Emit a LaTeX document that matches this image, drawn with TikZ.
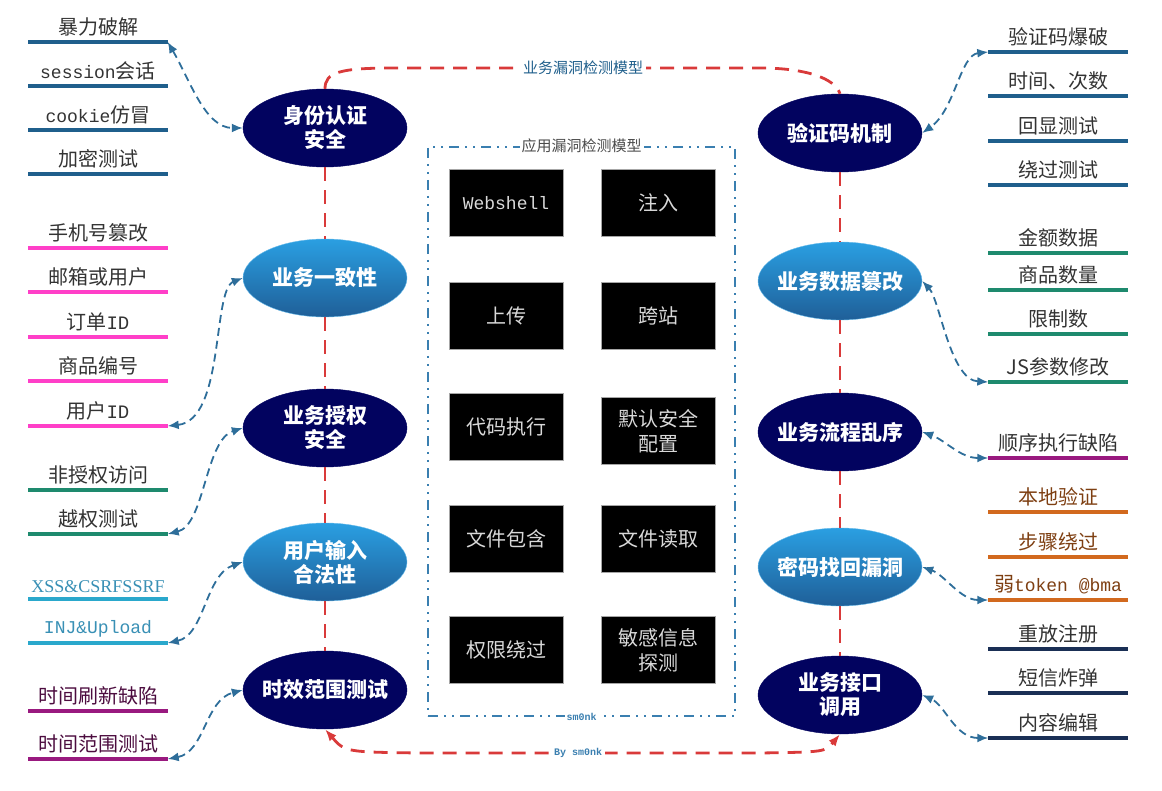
\documentclass[tikz,border=0pt]{standalone}
\usepackage{fontspec}
\setmainfont{Noto Sans CJK SC}
\setmonofont{Liberation Mono}
\newfontfamily\serifl{Liberation Serif}
\usetikzlibrary{shapes.geometric,arrows.meta}

\definecolor{ovdark}{HTML}{02035F}
\definecolor{ovtop}{HTML}{2A9FE2}
\definecolor{ovbot}{HTML}{1F5F98}
\definecolor{redline}{HTML}{D93A3A}
\definecolor{blueline}{HTML}{2E6E9A}
\definecolor{boxblue}{HTML}{3A7FB0}
\definecolor{cblue}{HTML}{1F5F8C}
\definecolor{cpink}{HTML}{FF3FC8}
\definecolor{cgreen}{HTML}{1E8A6E}
\definecolor{ccyan}{HTML}{2AA8CC}
\definecolor{cpurple}{HTML}{99197F}
\definecolor{corange}{HTML}{D2691E}
\definecolor{cnavy}{HTML}{1A2F55}

\tikzset{
	oval/.style={ellipse,minimum width=164pt,minimum height=78pt,inner xsep=-10pt,inner ysep=0pt,align=center,text=white,font=\fontsize{21}{24}\selectfont\bfseries},
	darkoval/.style={oval,fill=ovdark,draw=ovdark},
	lightoval/.style={oval,top color=ovtop,bottom color=ovbot,draw=ovtop!70!white},
	tag/.style={anchor=south,minimum width=139pt,inner xsep=0pt,inner ysep=6pt,text=black!80,font=\fontsize{20}{24}\selectfont},
	testbox/.style={rectangle,fill=black,draw=black!35,minimum width=114pt,minimum height=67pt,align=center,text=white!85!black,font=\fontsize{20}{25}\selectfont},
	frame/.style={rectangle,draw=boxblue,line width=1.8pt,dash pattern=on 10pt off 6pt on 2pt off 6pt on 2pt off 6pt,minimum width=307pt,minimum height=569pt},
	bizline/.style={draw=redline,line width=2.8pt,dash pattern=on 14pt off 9pt},
	link/.style={draw=blueline,line width=1.8pt,dash pattern=on 8pt off 5pt,>={Latex[length=11pt,width=9pt]},<->},
}

\begin{document}
\begin{tikzpicture}[x=1pt,y=-1pt]
	\useasboundingbox (0,0) rectangle (1162,791);

	% application model
	\node[frame] (Q) at (581.5,431.5) {};
	\node[fill=white,inner sep=2pt,text=black!70,font=\fontsize{15}{18}\selectfont] (Qt) at (Q.north) {应用漏洞检测模型};
	\node[fill=white,inner sep=2pt,text=boxblue,font=\ttfamily\bfseries\fontsize{10}{12}\selectfont] (Qb) at (Q.south) {sm0nk};

	\begin{scope}[every node/.style={testbox}]
		\node (M1) at (506,203) {\ttfamily\fontsize{18}{22}\selectfont Webshell};
		\node (M2) at (658,203) {注入};
		\node (M3) at (506,316) {上传};
		\node (M4) at (658,316) {跨站};
		\node (M5) at (506,427) {代码执行};
		\node (M6) at (658,431) {默认安全\\配置};
		\node (M7) at (506,539) {文件包含};
		\node (M8) at (658,539) {文件读取};
		\node (M9) at (506,650) {权限绕过};
		\node (M10) at (658,650) {敏感信息\\探测};
	\end{scope}

	% business model
	\begin{scope}[every node/.style={oval}]
		\node[darkoval] (A) at (325,128) {身份认证\\安全};
		\node[lightoval] (B) at (325,278) {业务一致性};
		\node[darkoval] (C) at (325,428) {业务授权\\安全};
		\node[lightoval] (D) at (325,562) {用户输入\\合法性};
		\node[darkoval] (E) at (325,690) {时效范围测试};
		\node[darkoval] (F) at (840,133) {验证码机制};
		\node[lightoval] (G) at (840,281) {业务数据篡改};
		\node[darkoval] (H) at (840,432) {业务流程乱序};
		\node[lightoval] (I) at (840,567) {密码找回漏洞};
		\node[darkoval] (J) at (840,695) {业务接口\\调用};
	\end{scope}

	\begin{scope}[every edge/.style={bizline}]
		\path (A) edge (B) (B) edge (C) (C) edge (D) (D) edge (E);
		\path (F) edge (G) (G) edge (H) (H) edge (I) (I) edge (J);
	\end{scope}
	\draw[bizline] (A.north) .. controls (325,72) and (340,68) .. (395,68) -- (760,68) .. controls (805,68) and (835,78) .. (F.north);
	\draw[bizline,<->,>={Latex[length=12pt,width=9pt]}] (E.south) .. controls (345,752) .. (420,753) -- (760,753) .. controls (825,752) .. (J.south);
	\node[fill=white,inner sep=3pt,text=cblue,font=\fontsize{15}{18}\selectfont] (T) at (583,68) {业务漏洞检测模型};
	\node[fill=white,inner sep=3pt,text=boxblue,font=\ttfamily\bfseries\fontsize{10}{12}\selectfont] (U) at (578,753) {By sm0nk};

	% left tags
	\begin{scope}[every node/.style={tag}]
		\node (a1) at (98,42) {暴力破解};
		\node (a2) at (98,86) {{\ttfamily\fontsize{18}{22}\selectfont session}会话};
		\node (a3) at (98,130) {{\ttfamily\fontsize{18}{22}\selectfont cookie}仿冒};
		\node (a4) at (98,174) {加密测试};
		\node (b1) at (98,248) {手机号篡改};
		\node (b2) at (98,292) {邮箱或用户};
		\node (b3) at (98,337) {订单{\ttfamily\fontsize{19}{22}\selectfont ID}};
		\node (b4) at (98,381) {商品编号};
		\node (b5) at (98,426) {用户{\ttfamily\fontsize{19}{22}\selectfont ID}};
		\node (c1) at (98,490) {非授权访问};
		\node (c2) at (98,534) {越权测试};
		\node[text=cyan!40!teal] (d1) at (98,599) {\serifl\fontsize{18}{22}\selectfont XSS\&CSRFSSRF};
		\node[text=cyan!40!teal] (d2) at (98,643) {\ttfamily\fontsize{18}{22}\selectfont INJ\&Upload};
		\node[text=cpurple!50!black] (e1) at (98,711) {时间刷新缺陷};
		\node[text=cpurple!50!black] (e2) at (98,759) {时间范围测试};
	\end{scope}

	% right tags
	\begin{scope}[every node/.style={tag}]
		\node (f1) at (1058,52) {验证码爆破};
		\node (f2) at (1058,96) {时间、次数};
		\node (f3) at (1058,141) {回显测试};
		\node (f4) at (1058,185) {绕过测试};
		\node (g1) at (1058,253) {金额数据};
		\node (g2) at (1058,290) {商品数量};
		\node (g3) at (1058,334) {限制数};
		\node (g4) at (1058,382) {JS参数修改};
		\node (h1) at (1058,458) {顺序执行缺陷};
		\node[text=corange!60!black] (i1) at (1058,512) {本地验证};
		\node[text=corange!60!black] (i2) at (1058,557) {步骤绕过};
		\node[text=corange!60!black] (i3) at (1058,600) {弱{\ttfamily\fontsize{18}{22}\selectfont token @bma}};
		\node (j1) at (1058,649) {重放注册};
		\node (j2) at (1058,693) {短信炸弹};
		\node (j3) at (1058,738) {内容编辑};
	\end{scope}

	% underlines
	\foreach \n/\c in {a1/cblue,a2/cblue,a3/cblue,a4/cblue,b1/cpink,b2/cpink,b3/cpink,b4/cpink,b5/cpink,c1/cgreen,c2/cgreen,d1/ccyan,d2/ccyan,e1/cpurple,e2/cpurple,f1/cblue,f2/cblue,f3/cblue,f4/cblue,g1/cgreen,g2/cgreen,g3/cgreen,g4/cgreen,h1/cpurple,i1/corange,i2/corange,i3/corange,j1/cnavy,j2/cnavy,j3/cnavy}
		\draw[\c,line width=3.5pt] (\n.south west) -- (\n.south east);

	% links
	\draw[link] (a1.south east) .. controls (190,80) and (205,128) .. (A.west);
	\draw[link] (b5.south east) .. controls (225,420) and (212,290) .. (B.west);
	\draw[link] (c2.south east) .. controls (205,525) and (205,440) .. (C.west);
	\draw[link] (d2.south east) .. controls (205,635) and (205,575) .. (D.west);
	\draw[link] (e2.south east) .. controls (205,752) and (205,700) .. (E.west);
	\draw[link] (f1.south west) .. controls (960,55) and (955,110) .. (F.east);
	\draw[link] (g4.south west) .. controls (950,380) and (940,300) .. (G.east);
	\draw[link] (h1.south west) .. controls (960,458) and (945,440) .. (H.east);
	\draw[link] (i3.south west) .. controls (960,600) and (945,575) .. (I.east);
	\draw[link] (j3.south west) .. controls (955,738) and (945,705) .. (J.east);
\end{tikzpicture}
\end{document}
